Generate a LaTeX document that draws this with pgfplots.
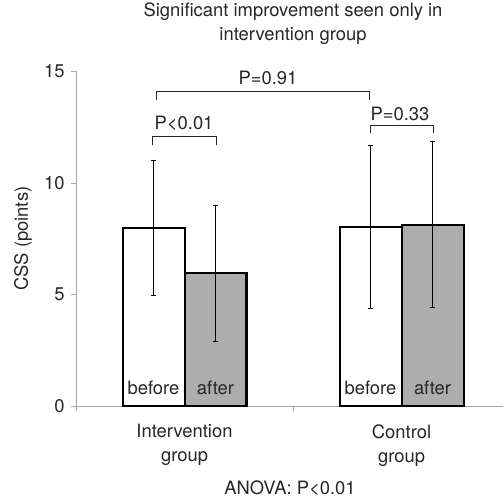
\documentclass[border=0pt]{standalone}
\usepackage{pgfplots}
\pgfplotsset{compat=1.18}
\usepackage{fontspec}
\setmainfont{TeX Gyre Heros}
\definecolor{axgray}{HTML}{A6A6A6}
\definecolor{bargray}{HTML}{ADADAD}
\definecolor{txt}{HTML}{262626}
\begin{document}
\fontsize{18.4bp}{24bp}\selectfont
\begin{tikzpicture}
\useasboundingbox (0,0) rectangle (503bp,502bp);
\begin{axis}[
  at={(76bp,96bp)}, anchor=south west,
  scale only axis, width=434bp, height=334.5bp,
  xmin=-0.5, xmax=1.5, ymin=0, ymax=15,
  ybar=0pt, bar width=62bp,
  axis lines*=left,
  axis line style={-, draw=axgray, line width=0.9bp},
  xtick={-0.5,0.5,1.5}, xticklabels={,,},
  extra x ticks={0,1},
  extra x tick labels={Intervention\\group,Control\\group},
  extra x tick style={major tick length=0pt},
  xticklabel style={align=center, text=txt, yshift=-12bp, font=\fontsize{18.4bp}{24bp}\selectfont},
  ytick={0,5,10,15},
  yticklabel style={text=txt, font=\fontsize{18.4bp}{24bp}\selectfont},
  /pgf/number format/assume math mode=true,
  tick align=outside, major tick length=5bp,
  tick style={draw=axgray, line width=0.9bp},
  ylabel={CSS (points)},
  every axis y label/.style={at={(axis description cs:-0.122,0.5)}, rotate=90, anchor=center, text=txt},
  title={Significant improvement seen only in\\intervention group},
  title style={align=center, at={(0.5,1)}, anchor=center, yshift=41.5bp, text=txt},
  clip=false,
]
% bars: before
\addplot[bar shift=-31bp, fill=white, draw=black, line width=2bp,
  error bars/.cd, y dir=both, y explicit,
  error bar style={black, line width=0.8bp},
  error mark options={black, line width=0.8bp, mark size=2.5bp, rotate=90}]
  coordinates {(0,7.97) +- (0,3.03) (1,8.03) +- (0,3.66)};
% bars: after
\addplot[bar shift=31bp, fill=bargray, draw=black, line width=2bp,
  error bars/.cd, y dir=both, y explicit,
  error bar style={black, line width=0.8bp},
  error mark options={black, line width=0.8bp, mark size=2.5bp, rotate=90}]
  coordinates {(0,5.95) +- (0,3.05) (1,8.13) +- (0,3.72)};
% bar outlines
\addplot[sharp plot, bar shift=0pt, black, line width=2bp, line join=miter] coordinates {(-0.2857,0) (-0.2857,7.97) (0,7.97) (0,0)};
\addplot[sharp plot, bar shift=0pt, black, line width=2bp, line join=miter] coordinates {(0,0) (0,5.95) (0.2857,5.95) (0.2857,0)};
\addplot[sharp plot, bar shift=0pt, black, line width=2bp, line join=miter] coordinates {(0.7143,0) (0.7143,8.03) (1,8.03) (1,0)};
\addplot[sharp plot, bar shift=0pt, black, line width=2bp, line join=miter] coordinates {(1,0) (1,8.13) (1.2857,8.13) (1.2857,0)};
% brackets
\addplot[sharp plot, bar shift=0pt, black!85, line width=0.8bp] coordinates {(-0.128,13.72) (-0.128,14.09) (0.852,14.09) (0.852,13.72)};
\addplot[sharp plot, bar shift=0pt, black!85, line width=0.8bp] coordinates {(-0.147,11.70) (-0.147,12.10) (0.145,12.10) (0.145,11.70)};
\addplot[sharp plot, bar shift=0pt, black!85, line width=0.8bp] coordinates {(0.858,12.23) (0.858,12.59) (1.1465,12.59) (1.1465,12.23)};
\node[text=txt] at (axis cs:0.385,14.69) {P=0.91};
\node[text=txt] at (axis cs:-0.002,12.69) {P<0.01};
\node[text=txt] at (axis cs:0.993,13.09) {P=0.33};
\node[text=txt] at ([xshift=-31bp]axis cs:0,0.81) {before};
\node[text=txt] at ([xshift=31bp]axis cs:0,0.81) {after};
\node[text=txt] at ([xshift=-31bp]axis cs:1,0.81) {before};
\node[text=txt] at ([xshift=31bp]axis cs:1,0.81) {after};
\node[text=txt] at ([xshift=-3bp, yshift=-82bp]axis description cs:0.5,0) {ANOVA: P<0.01};
\end{axis}
\end{tikzpicture}
\end{document}
